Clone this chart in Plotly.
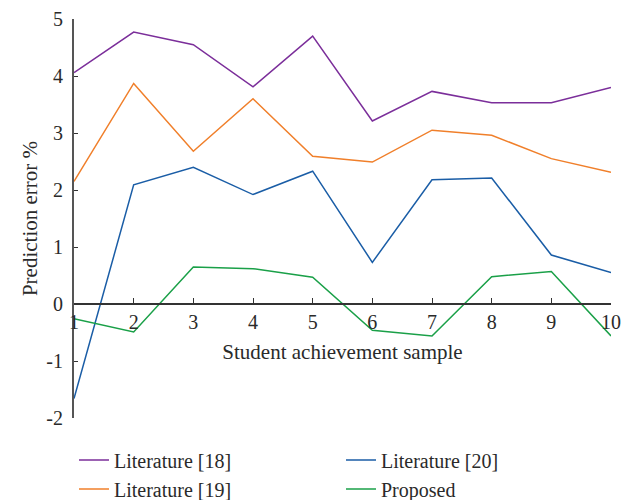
import plotly.graph_objects as go

samples = [1, 2, 3, 4, 5, 6, 7, 8, 9, 10]
lit18 = [4.06, 4.77, 4.55, 3.81, 4.70, 3.21, 3.73, 3.53, 3.53, 3.80]
lit19 = [2.15, 3.87, 2.68, 3.60, 2.59, 2.49, 3.05, 2.96, 2.55, 2.31]
lit20 = [-1.66, 2.09, 2.40, 1.92, 2.33, 0.73, 2.18, 2.21, 0.86, 0.55]
proposed = [-0.26, -0.49, 0.65, 0.62, 0.47, -0.46, -0.56, 0.48, 0.57, -0.56]

y_ticks = [-2, -1, 0, 1, 2, 3, 4, 5]
y_tick_text = ["-2", "-1", "0", "1", "2", "3", "4", "5"]

series = [
    ("Literature [18]", lit18, "#7B2E9A"),
    ("Literature [20]", lit20, "#1A5DA6"),
    ("Literature [19]", lit19, "#F07F2A"),
    ("Proposed", proposed, "#1AA048"),
]

font_family = "Liberation Serif"
fig = go.Figure()
for name, vals, color in series:
    fig.add_trace(go.Scatter(x=samples, y=vals, mode="lines", name=name,
                             line=dict(color=color, width=1.5)))

# page body has an 8px margin, so the figure is 8px smaller and offset
fig.update_layout(
    width=625, height=492,
    margin=dict(l=66, r=22, t=11, b=82, autoexpand=False),
    paper_bgcolor="white", plot_bgcolor="white",
    font=dict(family=font_family, size=20, color="#2a2a2a"),
    showlegend=True,
    legend=dict(orientation="h", x=66/625, y=0.121, xref="container", yref="container",
                xanchor="left", yanchor="top",
                entrywidth=222, entrywidthmode="pixels",
                font=dict(family=font_family, size=20, color="#2a2a2a"),
                tracegroupgap=0, itemwidth=30),
    xaxis=dict(range=[1, 10], tickvals=samples, ticktext=[str(s) for s in samples],
               showgrid=False, zeroline=False, showline=True, linecolor="#333", linewidth=1.5,
               ticks="inside", ticklen=5, tickcolor="#333", automargin=False,
               anchor="free", position=2/7,
               title=dict(text="Student achievement sample", standoff=12,
                          font=dict(family=font_family, size=21)),
               tickfont=dict(family=font_family, size=20)),
    yaxis=dict(range=[-2, 5], tickvals=y_ticks, ticktext=y_tick_text,
               showgrid=False, zeroline=False,
               showline=True, linecolor="#555", linewidth=2, automargin=False,
               ticks="inside", ticklen=4, tickcolor="#333", ticklabelstandoff=5,
               title=dict(text="Prediction error %", standoff=3,
                          font=dict(family=font_family, size=21)),
               tickfont=dict(family=font_family, size=20)),
)

fig.write_html("out.html")
